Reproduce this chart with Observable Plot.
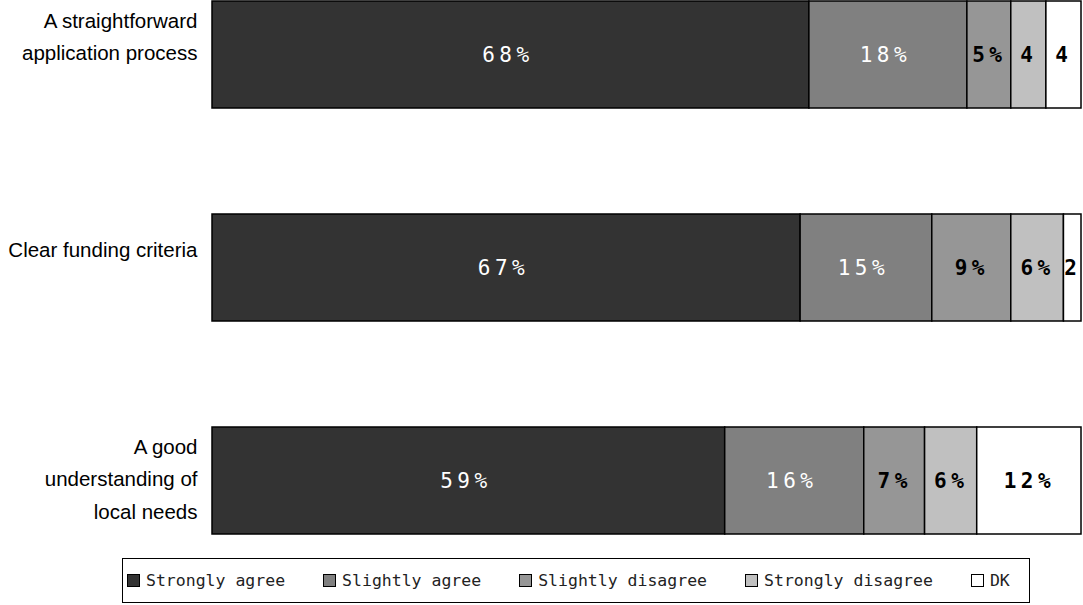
<!DOCTYPE html>
<html>
<head>
<meta charset="utf-8">
<script src="https://cdn.jsdelivr.net/npm/d3@7"></script>
<script src="https://cdn.jsdelivr.net/npm/@observablehq/plot@0.6"></script>
<style>
  html, body { margin: 0; padding: 0; background: #fff; }
  #chart svg { display: block; }
  .legend {
    box-sizing: border-box;
    margin-left: 122px;
    margin-top: 22px;
    width: 908px;
    height: 45px;
    border: 1px solid #000;
    display: flex;
    align-items: center;
    padding-left: 4px;
    font-family: "DejaVu Sans Mono", monospace;
    font-size: 16.5px;
    color: #222;
  }
  .legend .item { display: flex; align-items: center; margin-right: 38px; white-space: pre; }
  .legend .sw { width: 13px; height: 13px; border: 1px solid #000; margin-right: 6px; box-sizing: border-box; }
</style>
</head>
<body>
<div id="chart"></div>
<script>
// Category tick labels, wrapped as in the source (trailing break kept from its wrapping)
const categories = [
  "A straightforward\napplication process\n",
  "Clear funding criteria\n",
  "A good\nunderstanding of\nlocal needs"
];
const responses = ["Strongly agree", "Slightly agree", "Slightly disagree", "Strongly disagree", "DK"];
const colors = ["#333333", "#808080", "#969696", "#c0c0c0", "#ffffff"];
const values = [
  [68, 18, 5, 4, 4],
  [67, 15, 9, 6, 2],
  [59, 16, 7, 6, 12]
];
const labels = [
  ["68%", "18%", "5%", "4", "4"],
  ["67%", "15%", "9%", "6%", "2"],
  ["59%", "16%", "7%", "6%", "12%"]
];
const lightText = ["Strongly agree", "Slightly agree"];

const data = [];
categories.forEach((c, i) => responses.forEach((r, j) => {
  data.push({category: c, response: r, value: values[i][j], label: labels[i][j]});
}));

const stackOpts = {x: "value", y: "category", z: "response", order: responses, offset: "normalize"};
const monoFont = "DejaVu Sans Mono";

const plot = Plot.plot({
  width: 1083,
  height: 536,
  marginLeft: 212,
  marginRight: 2,
  marginTop: 1,
  marginBottom: 2,
  x: {axis: null},
  y: {domain: categories, axis: null, paddingInner: 0.5, paddingOuter: 0},
  color: {domain: responses, range: colors},
  marks: [
    Plot.barX(data, {...stackOpts, fill: "response", stroke: "#000", strokeWidth: 1.5}),
    Plot.text(data, Plot.stackX({...stackOpts,
      text: d => lightText.includes(d.response) ? d.label : null,
      fill: "white", fontFamily: monoFont, fontSize: 21, dx: -3})),
    Plot.text(data, Plot.stackX({...stackOpts,
      text: d => lightText.includes(d.response) ? null : d.label,
      fill: "black", fontWeight: "bold", fontFamily: monoFont, fontSize: 21, dx: 0})),
    Plot.text(categories, {
      y: d => d, frameAnchor: "left", dx: -15, dy: -5,
      textAnchor: "end", lineAnchor: "middle", lineHeight: 1.585,
      fontFamily: "Liberation Sans, Arial", fontSize: 20.5, fill: "#000",
      text: d => d
    })
  ]
});
plot.style.overflow = "visible";
plot.querySelectorAll("g").forEach(g => {
  if (g.getAttribute("font-family") === monoFont) {
    g.querySelectorAll("text").forEach(t => {
      t.style.letterSpacing = "4.5px";
      t.style.fontFamily = "'DejaVu Sans Mono', monospace";
    });
  }
});
document.getElementById("chart").append(plot);

const legend = document.createElement("div");
legend.className = "legend";
responses.forEach((r, j) => {
  const item = document.createElement("div");
  item.className = "item";
  const sw = document.createElement("div");
  sw.className = "sw";
  sw.style.background = colors[j];
  const t = document.createElement("span");
  t.textContent = r;
  item.append(sw, t);
  legend.append(item);
});
document.getElementById("chart").append(legend);
</script>
</body>
</html>
